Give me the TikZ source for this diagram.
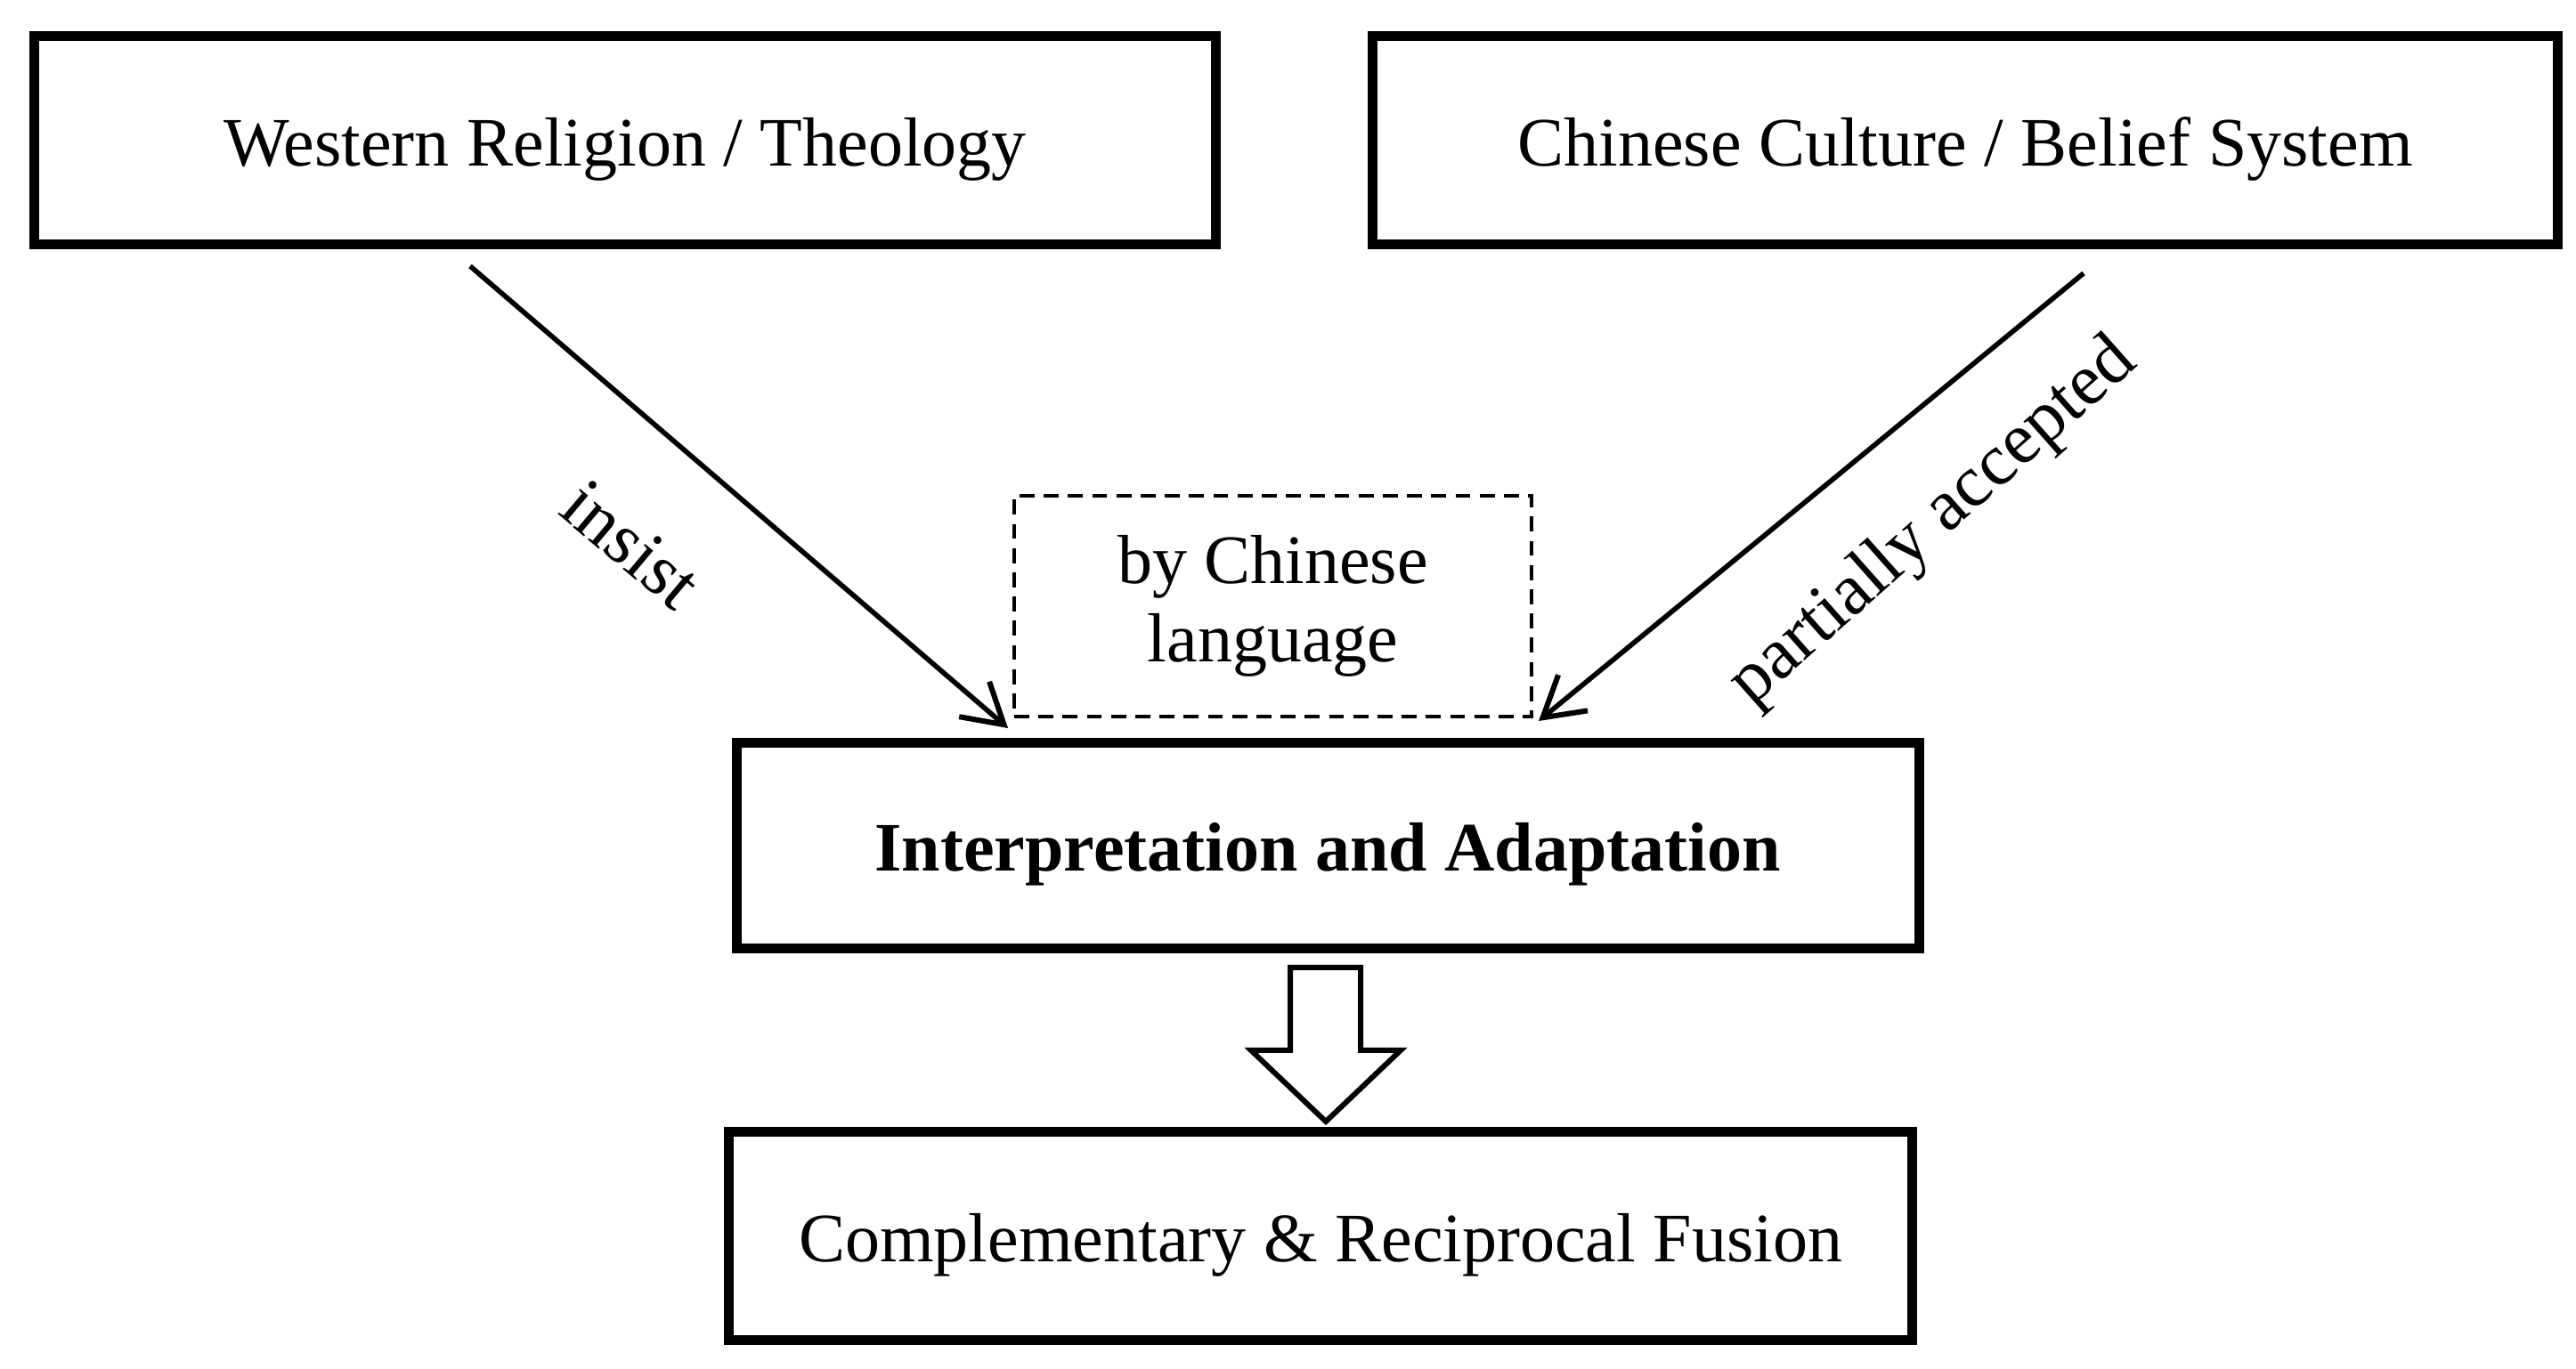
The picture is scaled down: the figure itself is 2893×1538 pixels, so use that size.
\documentclass[tikz,border=0pt]{standalone}
\usepackage{fontspec}
\setmainfont{Liberation Serif}
\usetikzlibrary{arrows.meta}
\tikzset{
  box/.style={draw=black, line width=2.75pt, fill=white, align=center, inner sep=0pt,
    text height=14.5pt, text depth=0pt, font=\fontsize{19.5}{22}\selectfont},
  dashbox/.style={draw=black, line width=1.2pt, dash pattern=on 4.2pt off 2.6pt, align=center,
    inner sep=0pt, font=\fontsize{19.5}{22}\selectfont},
  conn/.style={line width=1.4pt, -{Straight Barb[length=11pt,width=13pt,line width=1.5pt]}},
  lbl/.style={font=\fontsize{20.5}{24}\selectfont, inner sep=0pt},
  bigarrow/.style={draw=black, line width=1.5pt, fill=white, line join=miter}
}
\begin{document}
\begin{tikzpicture}[x=0.25pt, y=-0.25pt]
\useasboundingbox (0,0) rectangle (2893,1538);
\node[box, minimum width=331.75pt, minimum height=58.5pt] (west) at (702,158) {Western Religion / Theology};
\node[box, minimum width=332.75pt, minimum height=58.5pt] (chin) at (2207,158) {Chinese Culture / Belief System};
\node[dashbox, minimum width=145.25pt, minimum height=62pt] (lang) at (1429.5,681) {by Chinese\\language};
\node[box, minimum width=332pt, minimum height=57.75pt, font=\fontsize{19.5}{22}\selectfont\bfseries] (interp) at (1491,950) {Interpretation and Adaptation};
\node[box, minimum width=332.25pt, minimum height=58.5pt] (fusion) at (1483,1389) {Complementary \& Reciprocal Fusion};
\coordinate (ls) at (528,299);
\coordinate (lt) at (1132,818);
\coordinate (rs) at (2340,307);
\coordinate (rt) at (1728,810);
\draw[conn] (ls) -- (lt);
\draw[conn] (rs) -- (rt);
\node[lbl, rotate=-40] (insist) at (709,612) {insist};
\node[lbl, rotate=41.5] (partial) at (2172,588) {partially accepted};
\draw[bigarrow] (1449,1087) -- (1528,1087) -- (1528,1180) -- (1573,1180) -- (1489,1260) -- (1405,1180) -- (1449,1180) -- cycle;
\end{tikzpicture}
\end{document}
